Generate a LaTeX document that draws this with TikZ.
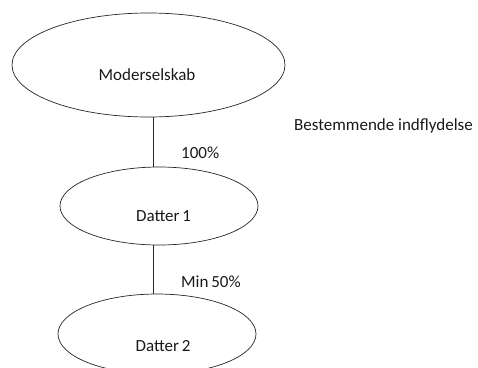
\documentclass[tikz,border=0pt]{standalone}
\usepackage{fontspec}
\setmainfont{Carlito}
\usetikzlibrary{shapes.geometric}
\begin{document}
\begin{tikzpicture}[x=1pt,y=-1pt,
  entity/.style={draw=black!85, line width=0.7pt, ellipse, inner sep=0pt},
  caption/.style={font=\fontsize{17}{19}\selectfont, text=black!90, inner sep=0pt},
  link/.style={draw=black!85, line width=0.7pt}]
  \useasboundingbox (0,0) rectangle (478,367);
  % ownership chain
  \node[entity, minimum width=273pt, minimum height=104pt] (top) at (148.5,65) {};
  \node[entity, minimum width=198pt, minimum height=78pt] (d1) at (159,206) {};
  \node[entity, minimum width=198pt, minimum height=80pt] (d2) at (157,334) {};
  \node[caption] (ttop) at (147,75) {Moderselskab};
  \node[caption] (td1) at (163.5,216) {Datter\,1};
  \node[caption] (td2) at (163,346) {Datter\,2};
  % connectors between the entities
  \coordinate (axis) at (153,0);
  \draw[link] (top.south -| axis) -- (d1.north -| axis);
  \draw[link] (d1.south -| axis) -- (d2.north -| axis);
  % ownership shares
  \node[caption, anchor=west] (p1) at (181,153) {100\%};
  \node[caption, anchor=west] (p2) at (181,282) {Min\,50\%};
  \node[caption, anchor=west] (note) at (294,126) {Bestemmende indflydelse};
\end{tikzpicture}
\end{document}
